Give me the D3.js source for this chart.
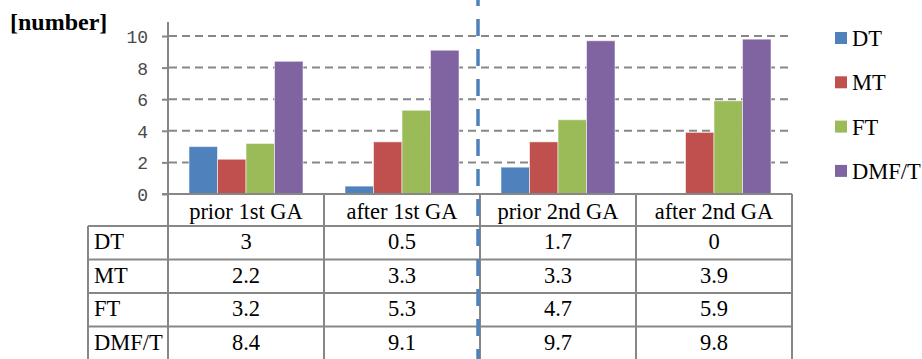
<!DOCTYPE html>
<html>
<head>
<meta charset="utf-8">
<script src="https://cdn.jsdelivr.net/npm/d3@7"></script>
<style>
  html, body { margin: 0; padding: 0; background: #fff; }
  svg { display: block; }
</style>
</head>
<body>
<svg id="chart" width="922" height="359"></svg>
<script>
// Tooth status counts per examination
const categories = ["prior 1st GA", "after 1st GA", "prior 2nd GA", "after 2nd GA"];
const seriesNames = ["DT", "MT", "FT", "DMF/T"];
const dtValues   = [3, 0.5, 1.7, 0];
const mtValues   = [2.2, 3.3, 3.3, 3.9];
const ftValues   = [3.2, 5.3, 4.7, 5.9];
const dmftValues = [8.4, 9.1, 9.7, 9.8];
const seriesColors = ["#4F81BD", "#C0504D", "#9BBB59", "#8064A2"];
const yTicks = [0, 2, 4, 6, 8, 10];
const yLabel = "[number]";

const seriesValues = [dtValues, mtValues, ftValues, dmftValues];

const svg = d3.select("#chart");
const gray = "#878787";
const serif = "Liberation Serif, Times New Roman, serif";
const textSize = 22.5;

// plot frame
const plotLeft = 168, plotRight = 792;
const baseY = 194, topY = 22;

const x0 = d3.scaleBand().domain(categories).range([plotLeft, plotRight]);
const groupPad = 21;
const x1 = d3.scaleBand().domain(seriesNames)
  .range([groupPad, x0.bandwidth() - groupPad]);
const y = d3.scaleLinear().domain([0, 10]).range([baseY, 36]);

// dashed gridlines
svg.append("g").selectAll("line")
  .data(yTicks.filter(d => d > 0))
  .join("line")
  .attr("x1", plotLeft + 1).attr("x2", plotRight)
  .attr("y1", d => y(d)).attr("y2", d => y(d))
  .attr("stroke", gray).attr("stroke-width", 2)
  .attr("stroke-dasharray", "8,5");

// y axis
const yAxis = d3.axisLeft(y).tickValues(yTicks).tickSize(6).tickPadding(14)
  .tickFormat(d3.format("d"));
const yG = svg.append("g").attr("transform", `translate(${plotLeft},0)`).call(yAxis);
yG.select(".domain").remove();
yG.selectAll(".tick line").attr("stroke", gray).attr("stroke-width", 2);
yG.selectAll(".tick text")
  .attr("font-family", "Liberation Mono, Courier New, monospace")
  .attr("font-size", 18).attr("fill", "#4a4a4a").attr("dy", "0.36em");
svg.append("line")
  .attr("x1", plotLeft).attr("x2", plotLeft)
  .attr("y1", topY).attr("y2", baseY)
  .attr("stroke", gray).attr("stroke-width", 2);

// bars
const groups = svg.append("g").selectAll("g")
  .data(categories)
  .join("g")
  .attr("transform", d => `translate(${x0(d)},0)`);
groups.selectAll("rect")
  .data((c, ci) => seriesNames.map((s, si) => ({ s, si, v: seriesValues[si][ci] })))
  .join("rect")
  .filter(d => d.v > 0)
  .attr("x", d => x1(d.s))
  .attr("width", x1.bandwidth())
  .attr("y", d => y(d.v))
  .attr("height", d => y(0) - y(d.v))
  .attr("fill", d => seriesColors[d.si])
  .attr("stroke", "#ffffff").attr("stroke-opacity", 0.55).attr("stroke-width", 1);

// data table under the axis
const headerH = 32, rowH = 33.5;
const tableLeft = 88;
const rowTop = i => baseY + headerH + i * rowH;
const tableBottom = rowTop(seriesNames.length);
const tbl = svg.append("g");

// horizontal rules
tbl.append("line")
  .attr("x1", plotLeft - 6).attr("x2", plotRight)
  .attr("y1", baseY).attr("y2", baseY)
  .attr("stroke", gray).attr("stroke-width", 2);
tbl.selectAll("line.hr")
  .data(d3.range(seriesNames.length + 1))
  .join("line").attr("class", "hr")
  .attr("x1", tableLeft).attr("x2", plotRight)
  .attr("y1", i => rowTop(i)).attr("y2", i => rowTop(i))
  .attr("stroke", gray).attr("stroke-width", 2);

// vertical rules
const colEdges = categories.map(c => x0(c)).concat([plotRight]);
tbl.selectAll("line.vr")
  .data(colEdges)
  .join("line").attr("class", "vr")
  .attr("x1", d => d).attr("x2", d => d)
  .attr("y1", baseY).attr("y2", tableBottom)
  .attr("stroke", gray).attr("stroke-width", 2);
tbl.append("line")
  .attr("x1", tableLeft).attr("x2", tableLeft)
  .attr("y1", rowTop(0)).attr("y2", tableBottom)
  .attr("stroke", gray).attr("stroke-width", 2);

// header labels
tbl.selectAll("text.cat")
  .data(categories)
  .join("text").attr("class", "cat")
  .attr("x", d => x0(d) + x0.bandwidth() / 2)
  .attr("y", 219)
  .attr("text-anchor", "middle")
  .attr("font-family", serif).attr("font-size", textSize).attr("fill", "#000")
  .text(d => d);

// row labels and values
seriesNames.forEach((s, si) => {
  const cy = rowTop(si) + 23;
  tbl.append("text")
    .attr("x", tableLeft + 6).attr("y", cy)
    .attr("font-family", serif).attr("font-size", textSize).attr("fill", "#000")
    .text(s);
  tbl.selectAll(null)
    .data(categories)
    .join("text")
    .attr("x", d => x0(d) + x0.bandwidth() / 2)
    .attr("y", cy)
    .attr("text-anchor", "middle")
    .attr("font-family", serif).attr("font-size", textSize).attr("fill", "#000")
    .text((d, ci) => seriesValues[si][ci]);
});

// divider between the two GA sessions
svg.append("line")
  .attr("x1", x0(categories[2]) - 2).attr("x2", x0(categories[2]) - 2)
  .attr("y1", 0).attr("y2", 359)
  .attr("stroke", "#4F81BD").attr("stroke-width", 3.5)
  .attr("stroke-dasharray", "17,13").attr("stroke-dashoffset", 11);

// axis unit label
svg.append("text")
  .attr("x", 10).attr("y", 30)
  .attr("font-family", serif).attr("font-size", 24).attr("font-weight", "bold")
  .attr("fill", "#000")
  .text(yLabel);

// legend
const legend = svg.append("g").selectAll("g")
  .data(seriesNames)
  .join("g")
  .attr("transform", (d, i) => `translate(835,${38 + i * 44.3})`);
legend.append("rect")
  .attr("x", 0).attr("y", -6).attr("width", 12).attr("height", 12)
  .attr("fill", (d, i) => seriesColors[i]);
legend.append("text")
  .attr("x", 17).attr("y", 8)
  .attr("font-family", serif).attr("font-size", textSize).attr("fill", "#000")
  .text(d => d);
</script>
</body>
</html>
